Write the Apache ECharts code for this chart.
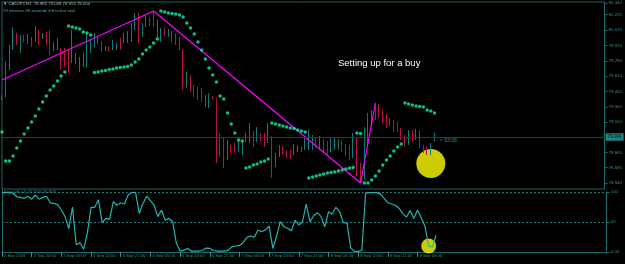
<!DOCTYPE html>
<html><head><meta charset="utf-8">
<script src="https://cdn.jsdelivr.net/npm/echarts@6/dist/echarts.min.js"></script>
<style>html,body{margin:0;padding:0;background:#000;}#c{width:625px;height:264px;}</style>
</head><body><div id="c"></div>
<script>
// ---- data ----
const timeLabels = ['2 Sep 2016','2 Sep 20:00','5 Sep 05:00','5 Sep 13:00','5 Sep 21:00','6 Sep 05:00','6 Sep 13:00','6 Sep 21:00','7 Sep 05:00','7 Sep 13:00','7 Sep 21:00','8 Sep 05:00','8 Sep 13:00','8 Sep 21:00','9 Sep 05:00'];
const barsPerLabel = 8;
const totalSlots = 164;
const priceTicks = [80.340, 80.225, 80.070, 79.915, 79.760, 79.610, 79.455, 79.300, 79.150, 78.845, 78.695, 78.540];
const opens = [79.38,79.45,79.71,79.92,80.02,79.89,80.00,79.96,79.99,79.97, 80.05,80.00,80.03,79.99,79.88,79.90,79.87,79.82,79.79,79.77, 79.75,79.67,79.73,79.75,79.87,79.93,79.95,79.94,79.87,79.90, 79.88,79.88,79.97,79.95,79.96,79.99,80.09,80.21,80.02,80.12, 80.18,80.21,80.07,79.97,80.09,80.01,80.05,80.02,79.99,79.87, 79.51,79.61,79.51,79.49,79.45,79.33,79.32,79.40,79.38,79.02, 78.97,78.81,78.91,78.92,78.87,78.87,78.96,78.97,79.05,78.97, 79.03,79.02,78.97,79.00,78.72,78.82,78.90,78.85,78.86,78.83, 78.86,78.86,78.89,78.89,78.95,78.99,78.90,78.97,78.93,78.87, 78.89,78.91,78.96,78.92,78.90,78.82,78.97,78.71,78.60,78.97, 79.13,79.25,79.31,79.25,79.20,79.18,79.16,79.14,79.07,79.01, 78.94,79.04,78.98,79.06,78.91,78.89,78.86,78.985];
const closes = [79.41,79.72,79.87,80.05,79.97,79.99,79.97,80.01,79.93,80.07, 79.97,80.03,79.95,79.87,79.93,79.97,79.75,79.75,79.71,80.02, 79.81,79.77,79.81,79.99,79.95,80.01,79.99,79.87,79.90,79.86, 79.95,79.92,79.89,80.02,80.03,80.11,80.21,79.99,80.11,80.19, 80.13,80.13,80.15,80.07,80.03,80.07,79.97,79.94,79.89,79.49, 79.63,79.49,79.43,79.40,79.37,79.40,79.41,79.38,78.82,78.87, 78.82,78.92,78.86,78.87,78.95,78.92,79.02,79.10,78.94,79.07, 78.98,78.93,79.11,78.67,78.82,78.90,78.84,78.80,78.81,78.91, 78.90,78.89,78.97,79.02,79.00,78.92,78.97,78.87,78.85,78.95, 78.97,78.96,78.87,78.84,78.80,78.99,78.69,78.57,79.00,79.19, 79.25,79.20,79.23,79.17,79.12,79.14,79.08,79.07,78.99,78.93, 79.04,78.97,79.06,78.92,78.87,78.86,78.93,79.004];
const lows = [79.37,79.40,79.67,79.87,79.92,79.84,79.95,79.93,79.90,79.95, 79.92,79.98,79.92,79.82,79.86,79.87,79.67,79.70,79.64,79.74, 79.73,79.65,79.70,79.69,79.84,79.90,79.93,79.85,79.86,79.85, 79.87,79.87,79.87,79.94,79.94,79.95,80.07,79.94,80.00,80.10, 80.11,80.10,79.99,79.95,80.01,80.00,79.95,79.92,79.87,79.47, 79.49,79.45,79.40,79.37,79.35,79.30,79.29,79.37,78.74,78.80, 78.69,78.77,78.84,78.84,78.85,78.82,78.95,78.94,78.90,78.95, 78.96,78.90,78.94,78.59,78.70,78.80,78.82,78.79,78.78,78.82, 78.85,78.85,78.87,78.87,78.87,78.89,78.87,78.84,78.81,78.85, 78.87,78.87,78.85,78.81,78.77,78.79,78.61,78.54,78.58,78.90, 79.10,79.17,79.19,79.14,79.09,79.11,79.05,79.05,78.97,78.90, 78.92,78.95,78.97,78.89,78.84,78.82,78.82,78.953];
const highs = [79.42,79.75,79.92,80.10,80.04,80.02,80.02,80.03,80.00,80.11, 80.07,80.04,80.05,80.07,79.95,79.99,79.89,79.89,79.87,80.07, 79.84,79.80,79.84,80.03,79.97,80.04,80.01,79.96,79.91,79.91, 79.97,79.94,79.99,80.04,80.06,80.14,80.24,80.24,80.14,80.22, 80.20,80.26,80.17,80.09,80.10,80.08,80.06,80.04,80.00,79.88, 79.65,79.62,79.52,79.50,79.49,79.42,79.44,79.41,79.39,79.04, 79.00,78.97,78.92,78.94,78.96,78.95,79.04,79.14,79.06,79.10, 79.04,79.04,79.14,79.01,78.84,78.92,78.91,78.86,78.87,78.93, 78.92,78.90,78.99,79.07,79.02,79.00,79.01,78.98,78.96,78.99, 79.00,78.98,78.97,78.93,78.92,79.04,78.99,78.74,79.10,79.24, 79.27,79.34,79.33,79.27,79.23,79.19,79.17,79.15,79.09,79.02, 79.07,79.07,79.08,79.07,78.92,78.91,78.94,79.038];
const psar = [79.05,78.76,78.76,78.81,78.89,78.96,79.03,79.09,79.15,79.21, 79.28,79.35,79.41,79.47,79.51,79.56,79.61,79.65,80.11,80.10, 80.09,80.08,80.05,80.04,80.02,79.645,79.65,79.66,79.665,79.675, 79.68,79.69,79.695,79.70,79.705,79.72,79.75,79.78,79.83,79.87, 79.90,79.94,79.98,80.26,80.25,80.24,80.235,80.23,80.22,80.20, 80.14,80.09,80.03,79.95,79.87,79.78,79.69,79.62,79.55,79.41, 79.38,79.24,79.13,79.04,78.97,78.96,78.69,78.70,78.72,78.73, 78.75,78.76,78.78,79.14,79.13,79.12,79.11,79.10,79.09,79.085, 79.07,79.06,79.05,78.59,78.60,78.61,78.62,78.63,78.64,78.645, 78.65,78.66,78.67,78.68,78.69,78.695,79.04,79.035,78.54,78.54, 78.57,78.61,78.66,78.72,78.77,78.81,78.86,78.90,78.93,79.34, 79.33,79.32,79.31,79.305,79.30,79.27,79.26,79.24];
const oscillator = [99,99,99,98,92,91,89.5,93,88,95, 88,91,93,82,81,79,70,59,39,75, 12,15.5,4.5,31,74.5,74.5,87,49,56,54.5, 84,78,82,80,95,99.5,99.5,64.5,81,93, 85.5,78,59,70,53,56,50.5,14.5,1.5,3, 6,1.5,1.5,1.5,2.5,6.5,6,2.5,1.5,1.5, 1.5,3,9,10,11,15.5,24.5,26.5,24.5,36.7, 34,36.7,43,6,25.5,50.5,42,39.5,35.5,53, 45,50.5,80,50.5,60,65.5,59,42,67,63, 74.5,67,49,48,6.5,1,1,3,98,99, 99,99,96.5,89.5,82,80,78,73,64.5,58, 69,56,70,57,43,10,8,28];
const zigzagIdx = [0, 41, 97, 101];
const zigzagVal = [79.57, 80.26, 78.54, 79.34];
const lastPrice = 79.004;
const headerText = '\u25BC CADJPY,H1  78.985 79.038 78.953 79.004';
const timerText = '53 minutes 08 seconds left to bar end';
const noteText = 'Setting up for a buy';
const bigMarkIdx = 116, bigMarkVal = 78.735;
const smallMarkIdx = 115, smallMarkVal = 10;

// ---- build ----
const cats = [];
for (let i = 0; i < totalSlots; i++) cats.push(String(i));
const candleData = opens.map((o, i) => [o, closes[i], lows[i], highs[i]]);
const psarData = psar.map((v, i) => [i, v]);
const zz = new Array(opens.length).fill(null);
zigzagIdx.forEach((ix, k) => { zz[ix] = zigzagVal[k]; });

const frame = '#176b6b';
const lab = '#3b8f8f';
const upC = '#0f7a7a', dnC = '#b8123e';
const F = 'Liberation Sans, Arial, sans-serif';
const isLabelIdx = (idx) => idx % barsPerLabel === 0 && idx / barsPerLabel < timeLabels.length;

const chart = echarts.init(document.getElementById('c'), null, {renderer: 'canvas'});
chart.setOption({
  animation: false,
  backgroundColor: '#000',
  grid: [
    {left: 2, top: 2, width: 604.73, height: 187, show: true, borderColor: frame, borderWidth: 1},
    {left: 2, top: 192, width: 604.73, height: 60, show: false}
  ],
  xAxis: [
    {type: 'category', gridIndex: 0, data: cats, boundaryGap: false,
     axisLine: {show: false}, axisTick: {show: false}, axisLabel: {show: false}, splitLine: {show: false}},
    {type: 'category', gridIndex: 1, data: cats, boundaryGap: false,
     axisLine: {show: true, lineStyle: {color: frame}},
     axisTick: {show: true, length: 5, interval: (i) => isLabelIdx(i), lineStyle: {color: lab}},
     axisLabel: {show: true, interval: (i) => isLabelIdx(i), align: 'left', margin: 2, padding: [0,0,0,2],
       color: lab, fontSize: 4.2, fontFamily: F,
       formatter: (v, i) => isLabelIdx(i) ? timeLabels[i / barsPerLabel] : ''},
     splitLine: {show: false}}
  ],
  yAxis: [
    {type: 'value', gridIndex: 0, position: 'right', min: 78.48, max: 80.35,
     axisLine: {show: true, lineStyle: {color: frame}},
     axisTick: {show: true, length: 3, customValues: priceTicks, lineStyle: {color: frame}},
     axisLabel: {customValues: priceTicks, formatter: (v) => v.toFixed(3), color: lab, fontSize: 4.4, fontFamily: F, margin: 4},
     splitLine: {show: false}},
    {type: 'value', gridIndex: 1, position: 'right', min: 0, max: 100, interval: 50,
     axisLine: {show: true, lineStyle: {color: frame}},
     axisTick: {show: true, length: 3, lineStyle: {color: frame}},
     axisLabel: {formatter: (v) => v === 0 ? '0.00' : String(v), color: lab, fontSize: 4.4, fontFamily: F, margin: 4},
     splitLine: {show: true, lineStyle: {color: '#1d7a7a', type: [2, 2], width: 1}}}
  ],
  series: [
    {type: 'scatter', xAxisIndex: 0, yAxisIndex: 0, z: 1, symbol: 'circle', symbolSize: 29,
     itemStyle: {color: '#ffff00'}, data: [[bigMarkIdx, bigMarkVal]], silent: true},
    {type: 'candlestick', xAxisIndex: 0, yAxisIndex: 0, z: 3, barWidth: 1,
     itemStyle: {color: upC, color0: dnC, borderColor: upC, borderColor0: dnC, borderWidth: 1},
     data: candleData,
     markLine: {silent: true, symbol: 'none', animation: false,
       lineStyle: {color: '#2c3c3c', type: 'solid', width: 1},
       label: {show: true, position: 'end', distance: 1, formatter: lastPrice.toFixed(3),
         backgroundColor: '#1f8585', color: '#001010', fontSize: 4.6, fontFamily: F, padding: [1.5, 2, 1, 2]},
       data: [{yAxis: lastPrice}]}},
    {type: 'line', xAxisIndex: 0, yAxisIndex: 0, z: 4, data: zz, connectNulls: true, showSymbol: false,
     lineStyle: {color: '#ff00ff', width: 1.2}, silent: true},
    {type: 'scatter', xAxisIndex: 0, yAxisIndex: 0, z: 5, symbol: 'circle', symbolSize: 3.5,
     itemStyle: {color: '#12eeaa'}, data: psarData, silent: true},
    {type: 'scatter', xAxisIndex: 1, yAxisIndex: 1, z: 1, symbol: 'circle', symbolSize: 15,
     itemStyle: {color: '#ffff00'}, data: [[smallMarkIdx, smallMarkVal]], silent: true},
    {type: 'line', xAxisIndex: 1, yAxisIndex: 1, z: 4, data: oscillator, showSymbol: false,
     lineStyle: {color: '#22b5ad', width: 1.2}, silent: true}
  ],
  graphic: [
    {type: 'line', shape: {x1: 2.5, y1: 189, x2: 2.5, y2: 252}, style: {stroke: frame, lineWidth: 1}, silent: true},
    {type: 'text', left: 3, top: 2, style: {text: headerText, fill: '#a9b8b8', font: '4.3px ' + F}},
    {type: 'text', left: 3, top: 9, style: {text: timerText, fill: '#3fb59a', font: '4.3px ' + F}},
    {type: 'text', left: 338, top: 58, style: {text: noteText, fill: '#ffffff', font: '9.5px ' + F}},
    {type: 'text', left: 440, top: 138, style: {text: '< 53:08', fill: '#1f8f8f', font: '5px ' + F}},
    {type: 'text', left: 4, top: 190, style: {text: 'Stoch(18,1,1) 20.2026 28.2926', fill: '#5f7f7f', font: '3.8px ' + F}}
  ]
});
</script></body></html>
